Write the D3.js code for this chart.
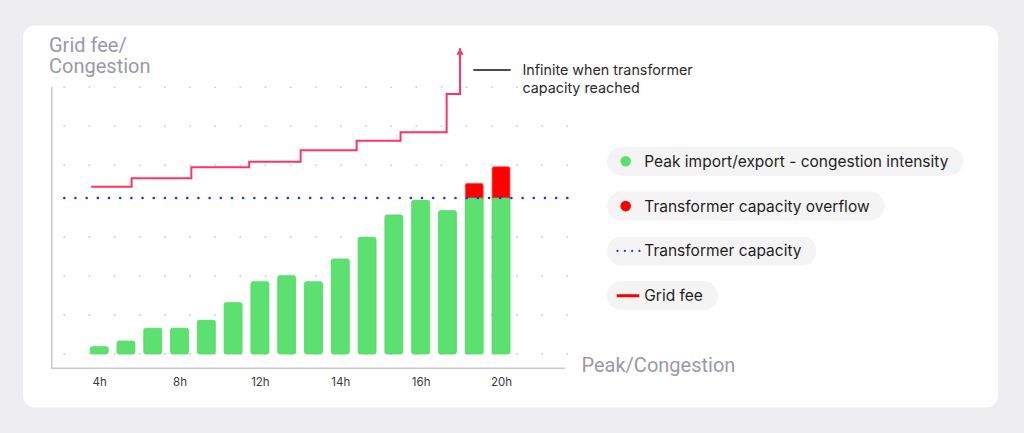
<!DOCTYPE html>
<html>
<head>
<meta charset="utf-8">
<script src="https://cdn.jsdelivr.net/npm/d3@7/dist/d3.min.js"></script>
<style>
  html, body { margin: 0; padding: 0; background: #eeeef1; }
  svg { display: block; }
</style>
</head>
<body>
<svg id="chart" width="1024" height="433"></svg>
<script>
// ---- data ----
const categories = ["1","2","3","4","5","6","7","8","9","10","11","12","13","14","15","16"];
const congestion = [4.7, 8.3, 16.5, 16.5, 21.6, 32.9, 46.3, 50.2, 46.3, 60.9, 74.8, 89.1, 98.5, 91.9, 100, 100];
const overflow   = [0, 0, 0, 0, 0, 0, 0, 0, 0, 0, 0, 0, 0, 0, 9.4, 20.1];
const capacity = 100;
const tickIndex  = [0, 3, 6, 9, 12, 15];
const tickLabels = ["4h", "8h", "12h", "14h", "16h", "20h"];
const feeX = [-0.3, 1.21, 3.44, 5.6, 7.52, 9.61, 11.25, 12.97, 13.47];
const feeY = [107.2, 112.6, 119.7, 123.3, 130.6, 136.7, 142.1, 166.7, 196];
const gridRows = [0, 25, 50, 75, 121, 146, 171];
const legendItems = [
  {label: "Peak import/export - congestion intensity", type: "dot", color: "#5ce06f"},
  {label: "Transformer capacity overflow", type: "dot", color: "#ff0000"},
  {label: "Transformer capacity", type: "dots", color: "#1a2cff"},
  {label: "Grid fee", type: "line", color: "#ff0000"}
];

// ---- layout ----
const svg = d3.select("#chart");
const GREEN = "#5ce06f", GREEN_STROKE = "#4fd963", RED = "#ff0000";
const FEE = "#ff3366", BLUE = "#1a2cff";

svg.append("rect").attr("x", 23).attr("y", 25.5).attr("width", 975).attr("height", 382)
  .attr("rx", 12).attr("fill", "#ffffff");

const x = d3.scaleBand().domain(categories).range([90.2, 510]).paddingInner(0.33).paddingOuter(0);
const bw = x.bandwidth();
const xi = d3.scaleLinear().domain([0, categories.length - 1])
  .range([x(categories[0]) + bw / 2, x(categories[categories.length - 1]) + bw / 2]);
const y = d3.scaleLinear().domain([0, 100]).range([354, 198]);

// dot grid
const gx = d3.scaleLinear().domain([0, 20]).range([64.3, 567.3]);
const grid = svg.append("g");
gridRows.forEach(r => {
  d3.range(21).forEach(c => {
    grid.append("circle").attr("cx", gx(c)).attr("cy", y(r)).attr("r", 0.95).attr("fill", "#d0d0d4");
  });
});

// axes lines
const axisG = svg.append("g");
axisG.append("line").attr("x1", 51.7).attr("x2", 51.7).attr("y1", 87).attr("y2", 368.3)
  .attr("stroke", "#c9c9cc").attr("stroke-width", 1.5);
axisG.append("line").attr("x1", 51).attr("x2", 565).attr("y1", 368.3).attr("y2", 368.3)
  .attr("stroke", "#c9c9cc").attr("stroke-width", 1.5);

// x tick labels via axis
const xAxis = d3.axisBottom(xi).tickValues(tickIndex).tickFormat((d, i) => tickLabels[i]).tickSize(0).tickPadding(0);
const xg = svg.append("g").attr("transform", "translate(0,378)").call(xAxis);
xg.select(".domain").remove();
xg.selectAll("text").attr("font-family", "Inter, 'Noto Sans', sans-serif").attr("font-size", 11.5)
  .attr("fill", "#3a3a3a").attr("dy", "0.71em");

// bars
const bars = svg.append("g");
categories.forEach((c, i) => {
  if (overflow[i] > 0) {
    bars.append("rect").attr("x", x(c)).attr("width", bw)
      .attr("y", y(congestion[i] + overflow[i])).attr("height", y(congestion[i]) - y(congestion[i] + overflow[i]) + 3)
      .attr("rx", 2).attr("fill", RED).attr("stroke", "#ff5a5a").attr("stroke-width", 0.8);
  }
  bars.append("rect").attr("x", x(c)).attr("width", bw)
    .attr("y", y(congestion[i])).attr("height", y(0) - y(congestion[i]))
    .attr("rx", 2).attr("fill", GREEN).attr("stroke", GREEN_STROKE).attr("stroke-width", 0.8);
});

// capacity dotted line
svg.append("line").attr("x1", 64.3).attr("x2", 568).attr("y1", y(capacity)).attr("y2", y(capacity))
  .attr("stroke", BLUE).attr("stroke-width", 2.6).attr("stroke-linecap", "round")
  .attr("stroke-dasharray", "0 11.178");

// grid fee step line
const feePts = feeX.map((v, i) => [v, feeY[i]]);
const line = d3.line().x(d => xi(d[0])).y(d => y(d[1])).curve(d3.curveStepAfter);
svg.append("path").attr("d", line(feePts)).attr("fill", "none").attr("stroke", FEE)
  .attr("stroke-width", 2).attr("stroke-linejoin", "miter");
// arrow head at top end
const last = feePts[feePts.length - 1];
svg.append("path")
  .attr("d", `M${xi(last[0]) - 3.6},${y(last[1]) + 6.5} L${xi(last[0])},${y(last[1])} L${xi(last[0]) + 3.6},${y(last[1]) + 6.5} Z`)
  .attr("fill", FEE);

// annotation
svg.append("line").attr("x1", 473.3).attr("x2", 510.7).attr("y1", 70).attr("y2", 70)
  .attr("stroke", "#111").attr("stroke-width", 1.3);
const ann = svg.append("text").attr("x", 522.5).attr("y", 75).attr("font-family", "Inter, 'Noto Sans', sans-serif")
  .attr("font-size", 14.3).attr("fill", "#2b2b2b");
ann.append("tspan").attr("x", 522.5).text("Infinite when transformer");
ann.append("tspan").attr("x", 522.5).attr("dy", 18).text("capacity reached");

// axis titles
const titleFont = "Roboto, 'Noto Sans', sans-serif";
const yt = svg.append("text").attr("font-family", titleFont).attr("font-size", 20).attr("fill", "#9a99a8");
yt.append("tspan").attr("x", 49).attr("y", 51.5).text("Grid fee/");
yt.append("tspan").attr("x", 49).attr("y", 72.5).text("Congestion");
svg.append("text").attr("x", 581.5).attr("y", 372).attr("font-family", titleFont).attr("font-size", 20)
  .attr("fill", "#9a99a8").text("Peak/Congestion");

// legend
const lg = svg.append("g");
legendItems.forEach((d, i) => {
  const cy = 161.3 + i * 44.8;
  const g = lg.append("g");
  const pill = g.append("rect").attr("x", 607).attr("y", cy - 14.5).attr("height", 29).attr("rx", 14.5)
    .attr("fill", "#f4f4f5");
  const t = g.append("text").attr("x", 644.3).attr("y", cy).attr("dy", "0.35em")
    .attr("font-family", "Inter, 'Noto Sans', sans-serif").attr("font-size", 15.5).attr("fill", "#1f1f1f")
    .text(d.label);
  const w = t.node().getComputedTextLength();
  pill.attr("width", 644.3 + w + 15 - 607);
  if (d.type === "dot") {
    g.append("circle").attr("cx", 625.7).attr("cy", cy).attr("r", 5.3).attr("fill", d.color);
  } else if (d.type === "dots") {
    g.append("line").attr("x1", 617.5).attr("x2", 639.5).attr("y1", cy).attr("y2", cy)
      .attr("stroke", d.color).attr("stroke-width", 2.2).attr("stroke-linecap", "round").attr("stroke-dasharray", "0 7.33");
  } else {
    g.append("line").attr("x1", 616.7).attr("x2", 639.3).attr("y1", cy).attr("y2", cy)
      .attr("stroke", d.color).attr("stroke-width", 3);
  }
});
</script>
</body>
</html>
